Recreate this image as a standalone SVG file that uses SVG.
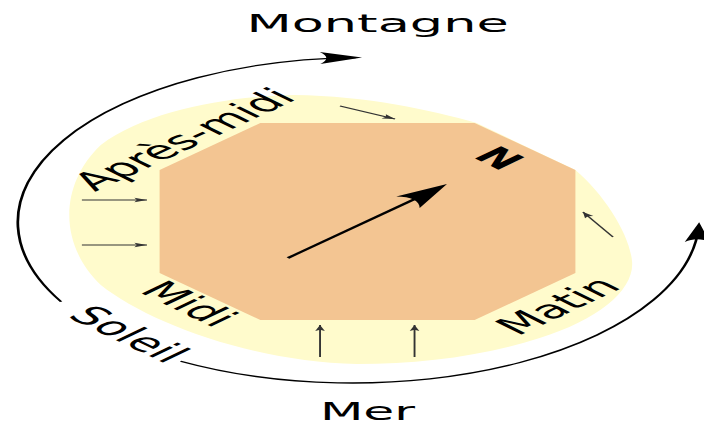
<svg xmlns="http://www.w3.org/2000/svg" width="704" height="425" viewBox="0 0 704 425">
  <defs>
    <style>
      .lbl{font-family:"DejaVu Sans","Liberation Sans",sans-serif;font-size:25px;fill:#000;text-anchor:middle}
      .small{font-size:24px}
      .bold{font-weight:bold;font-size:24px}
      .orbit{fill:none;stroke:#000;stroke-width:1.3}
      .wind{fill:none;stroke:#333;stroke-width:0.9}
      .needle{fill:none;stroke:#000;stroke-width:1.8}
    </style>
    <marker id="headOrbit" markerUnits="userSpaceOnUse" orient="auto" overflow="visible" markerWidth="1" markerHeight="1" refX="0" refY="0">
      <path d="M3,0 L-17,-6 C-13,-2 -13,2 -17,6 Z" fill="#000"/>
    </marker>
    <marker id="headNeedle" markerUnits="userSpaceOnUse" orient="auto" overflow="visible" markerWidth="1" markerHeight="1" refX="0" refY="0">
      <path d="M10,0 L-16,-8 C-11,-3 -11,3 -16,8 Z" fill="#000"/>
    </marker>
    <marker id="headWind" markerUnits="userSpaceOnUse" orient="auto" overflow="visible" markerWidth="1" markerHeight="1" refX="0" refY="0">
      <path d="M0,0 L-6,-2.3 L-4.8,0 L-6,2.3 Z" fill="#333"/>
    </marker>
  </defs>

  <!-- whole plan is drawn in a narrow frame and widened -->
  <g transform="scale(2.1,1)">
    <!-- garden around the house -->
    <g id="garden">
      <path d="M227,123 L274,170 C288,195 300,235 301,262 C302,290 285,320 257,338 C230,356 200,364 170,364 C120,362 70,322 48,285 C28,245 28,185 48,145 C70,110 110,96 140,95 C175,96 205,110 227,123 Z" fill="#fffbcc"/>
    </g>

    <!-- octagonal house -->
    <g id="house">
      <polygon points="124,123 226,123 274,170 274,273 226,320 124,320 76,273 76,170" fill="#f3c592"/>
    </g>

    <!-- sun path, north needle and wind arrows -->
    <g id="connectors">
      <path class="orbit" d="M29.1,301.75 A164.5,164.5 0 0 1 169.4,57.54" marker-end="url(#headOrbit)"/>
      <path class="orbit" d="M86,361.2 A165,165 0 0 0 332.8,225.2" marker-end="url(#headOrbit)"/>
      <path class="needle" d="M137.1,258 L205.7,191" marker-end="url(#headNeedle)"/>
      <path class="wind" d="M161.9,106 L188.1,119" marker-end="url(#headWind)"/>
      <path class="wind" d="M39,200 L70,200" marker-end="url(#headWind)"/>
      <path class="wind" d="M39,245 L70,245" marker-end="url(#headWind)"/>
      <path class="wind" d="M152.4,357 L152.4,325" marker-end="url(#headWind)"/>
      <path class="wind" d="M197.4,357 L197.4,325" marker-end="url(#headWind)"/>
      <path class="wind" d="M291.9,237 L277.6,212" marker-end="url(#headWind)"/>
    </g>

    <!-- labels -->
    <g id="label-montagne"><text class="lbl" x="179.8" y="32">Montagne</text></g>
    <g id="label-mer"><text class="lbl small" x="175" y="420">Mer</text></g>
    <g id="label-apres-midi"><text class="lbl" transform="translate(93.5,145.5) rotate(-44)">Après-midi</text></g>
    <g id="label-midi"><text class="lbl" transform="translate(84,310) rotate(45)">Midi</text></g>
    <g id="label-matin"><text class="lbl" transform="translate(271.5,312) rotate(-44)">Matin</text></g>
    <g id="label-soleil"><text class="lbl" transform="translate(55.4,340.3) rotate(45)">Soleil</text></g>
    <g id="label-north"><text class="lbl bold" transform="translate(231.8,164.2) rotate(45)">N</text></g>
  </g>
</svg>
